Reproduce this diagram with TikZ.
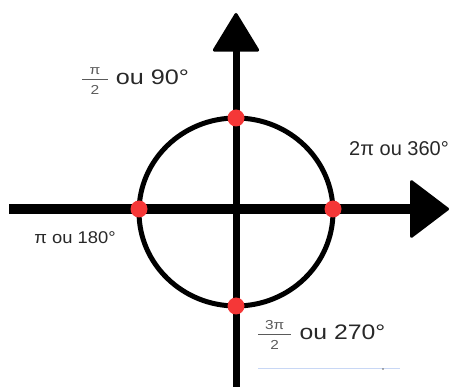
\documentclass[tikz,border=0pt]{standalone}
\usepackage{amsmath}
\usepackage{fontspec}
\usepackage{graphicx}
\setmainfont{Liberation Sans}
\usetikzlibrary{arrows.meta}

\definecolor{unitRed}{RGB}{245,55,55}
\definecolor{unitText}{RGB}{40,40,40}
\definecolor{unitFrac}{RGB}{90,90,90}
\definecolor{unitFaint}{RGB}{200,215,245}

\newcommand\fracsize{\fontsize{13}{13}\selectfont}
\newcommand\angfrac[2]{{\color{unitFrac}$\genfrac{}{}{1.3pt}{1}{\hbox{\fracsize\kern6pt\raisebox{2pt}{#1}\kern6pt}}{\hbox{\fracsize\rule{0pt}{12.5pt}#2}}$}}
\newcommand\wide[2]{\scalebox{#1}[1]{#2}}

\begin{document}
\begin{tikzpicture}[x=1pt, y=-1pt,
  dot/.style={circle, fill=unitRed, minimum size=17pt, inner sep=0pt},
  angle label/.style={text=unitText, inner sep=0pt, font=\fontsize{20}{24}\selectfont}]
\useasboundingbox (0,0) rectangle (453,387);
%% Axes
\coordinate (xstart) at (9,209);
\coordinate (xend)   at (449,209);
\coordinate (ystart) at (236,387);
\coordinate (yend)   at (236,13);
\draw[line width=10pt, -{Triangle[length=40pt, width=60pt, line width=3pt, round]}] (xstart) -- (xend);
\draw[line width=7pt,  -{Triangle[length=40pt, width=48pt, line width=3pt, round]}] (ystart) -- (yend);
%% Unit circle
\draw[line width=5pt] (236,212) ellipse [x radius=97, y radius=94];
%% Points on the circle
\node[dot] (p90)  at (236,118) {};
\node[dot] (p270) at (236,306) {};
\node[dot] (p180) at (139,209) {};
\node[dot] (p360) at (333,209) {};
%% Angle labels
\node[angle label, font=\fontsize{21}{25}\selectfont] (l90) at (135,81) {\wide{1.2}{\angfrac{π}{2} ou 90°}};
\node[angle label] (l360) at (399,149) {2π ou 360°};
\node[angle label, font=\fontsize{17}{20}\selectfont] (l180) at (75,238) {\wide{1.08}{π ou 180°}};
\node[angle label, font=\fontsize{21}{25}\selectfont] (l270) at (321,335) {\wide{1.18}{\angfrac{3π}{2} ou 270°}};
%% faint underline
\draw[unitFaint, line width=0.8pt] (258,368) -- (400,368);
\fill[black!60] (383,369) circle[radius=0.9];
\end{tikzpicture}
\end{document}
